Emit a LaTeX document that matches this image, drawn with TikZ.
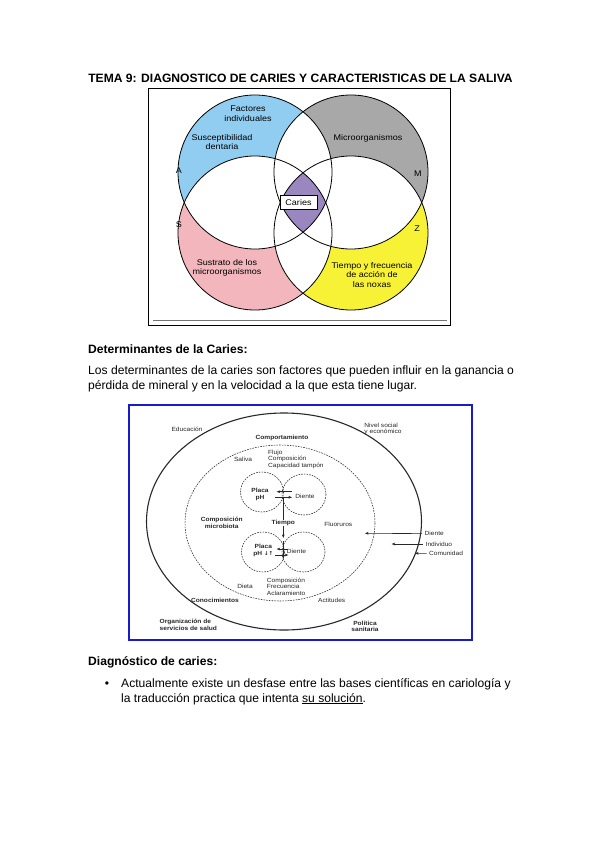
\documentclass[tikz,border=0pt]{standalone}
\usepackage{fontspec}
\setmainfont{Liberation Sans}
\newfontfamily\vennfont{Liberation Sans}[FakeStretch=1.1]
\newfontfamily\scanfont{Liberation Sans}[FakeStretch=1.1]
\newfontfamily\symfont{DejaVu Sans}
\usetikzlibrary{arrows.meta}
\definecolor{blueA}{RGB}{145,205,240}
\definecolor{grayM}{RGB}{168,168,168}
\definecolor{pinkS}{RGB}{242,182,188}
\definecolor{yellowZ}{RGB}{248,242,55}
\definecolor{purpleC}{RGB}{155,135,192}
\definecolor{boxblue}{RGB}{25,25,205}
\definecolor{scanink}{RGB}{40,40,40}
\begin{document}
\begin{tikzpicture}[x=1pt,y=-1pt,
  title/.style={font=\bfseries\fontsize{12.1}{14}\selectfont, inner sep=0pt},
  head/.style={font=\bfseries\fontsize{12.1}{14}\selectfont, inner sep=0pt, anchor=base west},
  body/.style={font=\fontsize{12.1}{14}\selectfont, inner sep=0pt, anchor=base west},
  vlabel/.style={font=\vennfont\fontsize{8.2}{9.5}\selectfont, align=center, inner sep=0pt},
  slabel/.style={font=\scanfont\fontsize{6}{6.6}\selectfont, text=scanink, inner sep=0pt, align=left},
  sbold/.style={font=\scanfont\bfseries\fontsize{6}{6.6}\selectfont, text=scanink, inner sep=0pt, align=left},
  sarr/.style={-{Stealth[length=3.6pt,width=2.8pt]}, line width=0.6pt, scanink},
  venncirc/.style={line width=0.8pt, black},
  dashell/.style={line width=0.55pt, scanink, dash pattern=on 1.6pt off 1.1pt}
]
\useasboundingbox (0,0) rectangle (599,848);
\fill[white] (0,0) rectangle (599,848);

% ---------- title ----------
\node[title, anchor=base] (ttl) at (300.5,82.5) {TEMA 9: DIAGNOSTICO DE CARIES Y CARACTERISTICAS DE LA SALIVA};

% ---------- Venn diagram ----------
\coordinate (cA) at (255,172);
\coordinate (cS) at (255,233);
\coordinate (cM) at (351,172);
\coordinate (cZ) at (351,233);
\fill[blueA] (cA) circle[radius=77];
\fill[grayM] (cM) circle[radius=77];
\fill[pinkS] (cS) circle[radius=77];
\fill[yellowZ] (cZ) circle[radius=77];
\foreach \p/\q in {cA/cS,cA/cM,cA/cZ,cS/cM,cS/cZ,cM/cZ}{
  \begin{scope}
    \clip (\p) circle[radius=77];
    \fill[white] (\q) circle[radius=77];
  \end{scope}
}
\begin{scope}
  \clip (cA) circle[radius=77];
  \clip (cS) circle[radius=77];
  \clip (cM) circle[radius=77];
  \fill[purpleC] (cZ) circle[radius=77];
\end{scope}
\foreach \c in {cA,cS,cM,cZ}{ \draw[venncirc] (\c) circle[radius=77]; }
\draw[line width=0.9pt] (148,88) rectangle (450,325);
\draw[line width=0.6pt, black!55] (153,320) -- (447,320);

\node[vlabel] (fact) at (248,113.5) {Factores\\individuales};
\node[vlabel] (susc) at (222,142) {Susceptibilidad\\dentaria};
\node[vlabel] (micro) at (368,138) {Microorganismos};
\node[vlabel] (lA) at (179,171) {A};
\node[vlabel] (lM) at (418,174) {M};
\node[vlabel] (lS) at (179,225) {S};
\node[vlabel] (lZ) at (417,229) {Z};
\node[vlabel, draw, fill=white, line width=0.5pt, minimum width=37pt, minimum height=14pt] (caries) at (298.5,202.5) {Caries};
\node[vlabel] (sust) at (227,268) {Sustrato de los\\microorganismos};
\node[vlabel] (tfreq) at (372,275) {Tiempo y frecuencia\\de acción de\\las noxas};

% ---------- text section 1 ----------
\node[head] (h1) at (88,353) {Determinantes de la Caries:};
\node[body] (p1) at (88,374) {Los determinantes de la caries son factores que pueden influir en la ganancia o};
\node[body] (p2) at (88,389) {pérdida de mineral y en la velocidad a la que esta tiene lugar.};

% ---------- second diagram ----------
\draw[boxblue, line width=2pt] (129,405) rectangle (472,640);
\draw[line width=1.1pt, scanink] (284,521.5) ellipse[x radius=137.5, y radius=108.5];
\draw[dashell] (280,523) ellipse[x radius=95, y radius=78];
\draw[dashell] (262,492) ellipse[x radius=21.5, y radius=20];
\draw[dashell] (304,494.5) ellipse[x radius=22, y radius=20.5];
\draw[dashell] (263,552) ellipse[x radius=21.5, y radius=20];
\draw[dashell] (303.5,552) ellipse[x radius=21.5, y radius=20];

\node[slabel] (educ) at (187,429) {Educación};
\node[slabel, align=left] (nivel) at (383,429) {Nivel social\\y económico};
\node[sbold] (compo) at (282,438) {Comportamiento};
\node[slabel] (saliva) at (243,459) {Saliva};
\node[slabel, anchor=west] (flujo) at (268,459.3) {Flujo\\Composición\\Capacidad tampón};
\node[sbold, align=center] (placa1) at (260,494.7) {Placa\\pH};
\node[slabel] (diente1) at (305,496) {Diente};
\draw[sarr] (291.7,491.7) -- (276.7,491.7);
\draw[sarr] (275,497.3) -- (292,497.3);
\node[sbold] (tiempo) at (283.3,522.7) {Tiempo};
\draw[line width=0.5pt, scanink] (283.3,496.7) -- (tiempo.north);
\coordinate (tEnd) at (283.3,538);
\draw[sarr] (tiempo.south) -- (tEnd);
\node[sbold, align=center] (cmicro) at (221.7,523) {Composición\\microbiota};
\node[slabel] (fluor) at (338.3,524) {Fluoruros};
\node[sbold, align=center] (placa2) at (263.3,550.3) {Placa\\pH {\symfont\fontsize{5.5}{6}\selectfont ↓↑}};
\node[slabel] (diente2) at (296.5,551.7) {Diente};
\draw[sarr] (288.3,549) -- (276.7,549);
\draw[sarr] (275,555) -- (288.3,555);
\draw[line width=0.5pt, scanink] (283.3,541) -- (283.3,558);
\node[slabel] (dieta) at (245,586) {Dieta};
\node[slabel, anchor=west] (cfa) at (266.7,586.7) {Composición\\Frecuencia\\Aclaramiento};
\node[sbold] (conoc) at (215,600) {Conocimientos};
\node[slabel] (actit) at (331.7,600.7) {Actitudes};
\node[sbold, align=left] (organ) at (188.3,625) {Organización de\\servicios de salud};
\node[sbold, align=center] (polit) at (365,626.3) {Política\\sanitaria};
\node[slabel, anchor=west] (dienteR) at (424.5,533.6) {Diente};
\node[slabel, anchor=west] (indiv) at (425.5,544) {Individuo};
\node[slabel, anchor=west] (comun) at (429,553.4) {Comunidad};
\coordinate (dR) at (365,533.3);
\coordinate (iR) at (391.7,544);
\coordinate (cR) at (415,553.3);
\draw[sarr] ([xshift=-2.5pt]dienteR.west) -- (dR);
\draw[sarr] ([xshift=-2.5pt]indiv.west) -- (iR);
\draw[sarr] ([xshift=-2.5pt]comun.west) -- (cR);

% ---------- text section 2 ----------
\node[head] (h2) at (88,665) {Diagnóstico de caries:};
\node[body, anchor=base] (bul) at (107,687) {•};
\node[body] (b1) at (121,687) {Actualmente existe un desfase entre las bases científicas en cariología y};
\node[body] (b2) at (121,702) {la traducción practica que intenta \underline{su solución}.};
\end{tikzpicture}
\end{document}
